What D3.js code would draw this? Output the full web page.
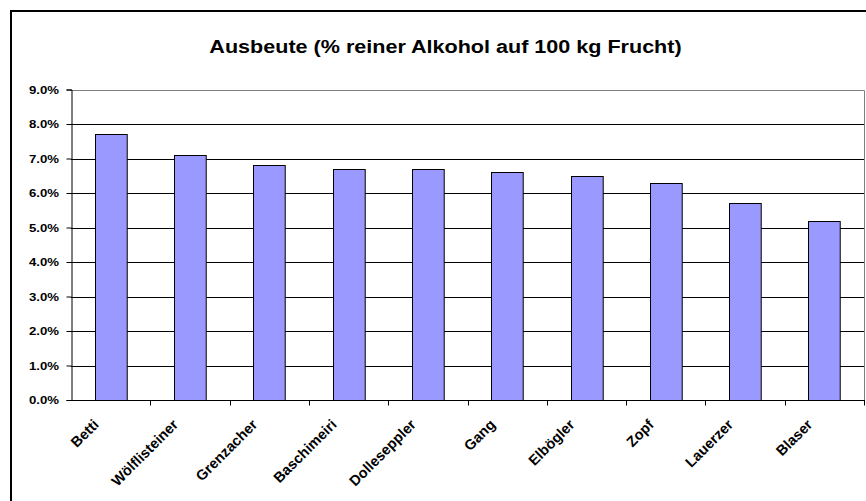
<!DOCTYPE html>
<html>
<head>
<meta charset="utf-8">
<script src="https://cdn.jsdelivr.net/npm/d3@7"></script>
<style>
    body { margin: 0; background: #fff; }
    text { font-family: Arial, "Liberation Sans", sans-serif; font-weight: bold; fill: #000; }
</style>
</head>
<body>
<svg id="vis"></svg>
<script>
const WIDTH = 866;
const HEIGHT = 501;

const TITLE = 'Ausbeute (% reiner Alkohol auf 100 kg Frucht)';
const categories = ['Betti', 'Wölflisteiner', 'Grenzacher', 'Baschimeiri', 'Dolleseppler',
    'Gang', 'Elbögler', 'Zopf', 'Lauerzer', 'Blaser'];
const values = [7.7, 7.1, 6.8, 6.7, 6.7, 6.6, 6.5, 6.3, 5.7, 5.2];
const yTicks = [0, 1, 2, 3, 4, 5, 6, 7, 8, 9];

const BAR_COLOUR = '#9999ff';
// the original picture is a little stretched sideways
const STRETCH = 1.12;

var svg = d3.select('#vis').attr('width', WIDTH).attr('height', HEIGHT);

var plot = { left: 71, right: 864, top: 89.5, bottom: 400 };

var x = d3.scaleBand().domain(categories).range([plot.left, plot.right]).paddingInner(0.6).paddingOuter(0.3);
var xOuter = d3.scaleBand().domain(categories).range([plot.left, plot.right]);
var y = d3.scaleLinear().domain([0, 9]).range([plot.bottom, plot.top]);

// outer chart frame (runs off the right and bottom of the picture)
svg.append('rect')
    .attr('x', 11).attr('y', 11)
    .attr('width', 900).attr('height', 600)
    .attr('fill', 'none').attr('stroke', '#000').attr('stroke-width', 2);

svg.append('text')
    .attr('transform', `translate(445.5,53) scale(${STRETCH + 0.015},1)`)
    .attr('text-anchor', 'middle')
    .style('font-size', '19px')
    .text(TITLE);

// gridlines
svg.append('g').selectAll('line')
    .data(yTicks.filter(d => d > 0 && d < 9))
    .join('line')
    .attr('x1', plot.left).attr('x2', plot.right)
    .attr('y1', d => Math.round(y(d)) + 0.5).attr('y2', d => Math.round(y(d)) + 0.5)
    .attr('stroke', '#000').attr('stroke-width', 1);

// plot area border top/right
svg.append('path')
    .attr('d', `M${plot.left},${Math.round(plot.top) + 0.5}H${plot.right + 0.5}V${plot.bottom}`)
    .attr('fill', 'none').attr('stroke', '#808080').attr('stroke-width', 1);

// bars
svg.append('g').selectAll('rect')
    .data(values)
    .join('rect')
    .attr('x', (d, i) => Math.round(x(categories[i])) + 0.5)
    .attr('y', d => Math.round(y(d)) + 0.5)
    .attr('width', x.bandwidth())
    .attr('height', d => plot.bottom - Math.round(y(d)))
    .attr('fill', BAR_COLOUR)
    .attr('stroke', '#000').attr('stroke-width', 1);

// y axis
var yAxis = d3.axisLeft(y)
    .tickValues(yTicks)
    .tickSize(5)
    .tickFormat(d => d.toFixed(1) + '%');
var gy = svg.append('g').attr('transform', `translate(${plot.left + 0.5},0)`).call(yAxis);
gy.attr('font-family', null).attr('font-size', null);
gy.selectAll('text')
    .attr('x', 0)
    .attr('transform', `translate(-12.5,0) scale(${STRETCH},1)`)
    .style('font-size', '11.8px');
gy.select('.domain').attr('stroke', '#000');

// x axis with ticks between categories
var gx = svg.append('g').attr('transform', `translate(0,${plot.bottom + 0.5})`);
gx.append('line')
    .attr('x1', plot.left).attr('x2', plot.right + 1)
    .attr('stroke', '#000');
gx.selectAll('.tick')
    .data(categories.map((c, i) => plot.left + xOuter.step() * (i + 1)))
    .join('line')
    .attr('x1', d => Math.round(d) + 0.5).attr('x2', d => Math.round(d) + 0.5)
    .attr('y1', 0).attr('y2', 5)
    .attr('stroke', '#000');

gx.selectAll('.label')
    .data(categories)
    .join('text')
    .attr('class', 'label')
    .attr('text-anchor', 'end')
    .attr('transform', d => `translate(${xOuter(d) + xOuter.bandwidth() / 2 - 11},25) rotate(-45)`)
    .style('font-size', '14.5px')
    .text(d => d);
</script>
</body>
</html>
